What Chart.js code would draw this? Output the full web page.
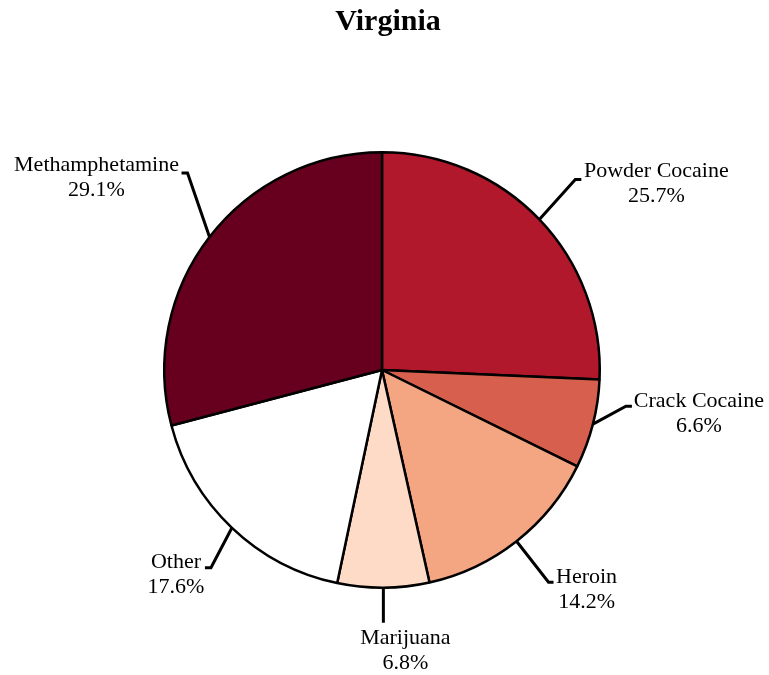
<!DOCTYPE html>
<html>
<head>
<meta charset="utf-8">
<script src="https://cdn.jsdelivr.net/npm/chart.js@4/dist/chart.umd.min.js"></script>
<style>
  html, body { margin: 0; padding: 0; background: #fff; }
  #wrap { width: 769px; height: 675px; position: relative; }
</style>
</head>
<body>
<div id="wrap"><canvas id="chart"></canvas></div>
<script>
// Drug share by type, Virginia
var categories = ["Powder Cocaine", "Crack Cocaine", "Heroin", "Marijuana", "Other", "Methamphetamine"];
var shares = [25.7, 6.6, 14.2, 6.8, 17.6, 29.1];
var sliceColors = ["#B2182B", "#D6604D", "#F4A582", "#FDDBC7", "#FFFFFF", "#67001F"];

// leader line layout: elbow offset from the slice edge, tick length, label centre from tick end
var leaderLayout = [
  { elbow: [36, -40], tick: 6, text: [75, -8] },
  { elbow: [33, -18], tick: 6, text: [67, -5] },
  { elbow: [32, 41], tick: 5, text: [33, -5] },
  { elbow: [0, 35], tick: 0, text: [22, 15] },
  { elbow: [-21, 40], tick: -6, text: [-29, -6] },
  { elbow: [-22, -64], tick: -6, text: [-85, -8] }
];

var serif = "'Liberation Serif', 'Times New Roman', serif";

var leaderLabels = {
  id: "leaderLabels",
  afterDatasetsDraw: function (chart) {
    var ctx = chart.ctx;
    var meta = chart.getDatasetMeta(0);
    ctx.save();
    meta.data.forEach(function (arc, i) {
      var p = arc.getProps(["x", "y", "startAngle", "endAngle", "outerRadius"], true);
      var mid = (p.startAngle + p.endAngle) / 2;
      var ex = p.x + Math.cos(mid) * p.outerRadius;
      var ey = p.y + Math.sin(mid) * p.outerRadius;
      var lay = leaderLayout[i];
      var bx = ex + lay.elbow[0];
      var by = ey + lay.elbow[1];
      var tx = bx + lay.tick;
      ctx.strokeStyle = "#000";
      ctx.lineWidth = 3;
      ctx.beginPath();
      ctx.moveTo(ex, ey);
      ctx.lineTo(bx, by);
      ctx.lineTo(tx, by);
      ctx.stroke();

      ctx.fillStyle = "#000";
      ctx.font = "22px " + serif;
      ctx.textAlign = "center";
      ctx.textBaseline = "middle";
      var cx = tx + lay.text[0];
      var cy = by + lay.text[1];
      ctx.fillText(categories[i], cx, cy);
      ctx.fillText(shares[i].toFixed(1) + "%", cx, cy + 25);
    });

    ctx.font = "bold 30px " + serif;
    ctx.textAlign = "center";
    ctx.textBaseline = "middle";
    ctx.fillText("Virginia", 388, 22);
    ctx.restore();
  }
};

new Chart(document.getElementById("chart"), {
  type: "pie",
  data: {
    labels: categories,
    datasets: [{
      data: shares,
      backgroundColor: sliceColors,
      borderColor: "#000",
      borderWidth: 2.5
    }]
  },
  options: {
    responsive: true,
    maintainAspectRatio: false,
    animation: false,
    layout: { padding: { top: 151, bottom: 86, left: 163, right: 168 } },
    plugins: {
      legend: { display: false },
      tooltip: { enabled: false },
      title: { display: false }
    }
  },
  plugins: [leaderLabels]
});
</script>
</body>
</html>
